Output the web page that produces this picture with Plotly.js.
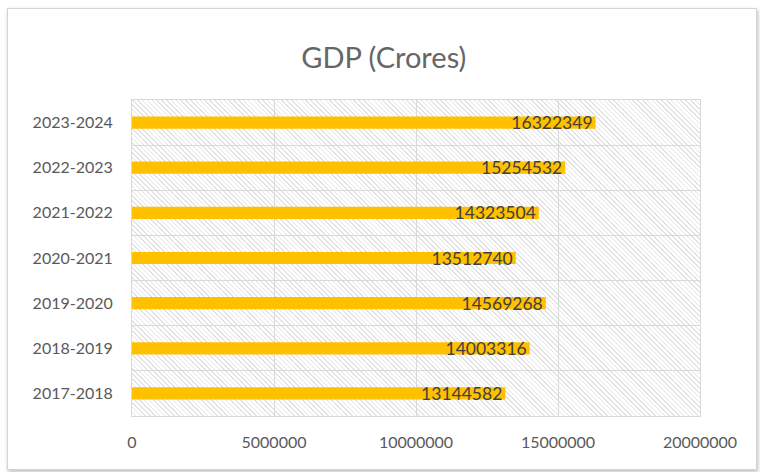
<!DOCTYPE html>
<html>
<head>
<meta charset="utf-8">
<script src="https://cdn.plot.ly/plotly-3.0.1.min.js"></script>
<style>
  html, body { margin: 0; padding: 0; background: #ffffff; }
  #wrap { position: relative; width: 760px; height: 472px; overflow: hidden; background: #fff; }
  #frame { position: absolute; left: 7px; top: 8px; width: 748px; height: 460px;
           border: 1px solid #d4d4d4; box-shadow: 1px 2px 4px rgba(0,0,0,0.25); background: #fff; }
  #hatch { position: absolute; left: 132px; top: 100px; width: 568px; height: 316px;
           background: repeating-linear-gradient(45deg, #ffffff 0px, #ffffff 2.3px, #e3e3e3 2.3px, #e3e3e3 3.4px); }
  #chart { position: absolute; left: 0; top: 0; width: 760px; height: 472px; }
</style>
</head>
<body>
<div id="wrap">
  <div id="frame"></div>
  <div id="hatch"></div>
  <div id="chart"></div>
</div>
<script>
const categories = ["2017-2018", "2018-2019", "2019-2020", "2020-2021", "2021-2022", "2022-2023", "2023-2024"];
const gdpValues = [13144582, 14003316, 14569268, 13512740, 14323504, 15254532, 16322349];
const xTickValues = [0, 5000000, 10000000, 15000000, 20000000];
const xTickLabels = ["0", "5000000", "10000000", "15000000", "20000000"];

const trace = {
  type: "bar",
  orientation: "h",
  y: categories,
  x: gdpValues,
  marker: { color: "#FFC000" },
  text: gdpValues.map(String),
  textposition: "inside",
  insidetextanchor: "end",
  constraintext: "none",
  cliponaxis: false,
  textfont: { family: "Lato, 'Open Sans', sans-serif", size: 17.5, color: "#404040" },
  hoverinfo: "x+y"
};

const layout = {
  width: 760,
  height: 472,
  margin: { l: 132, r: 60, t: 100, b: 56 },
  paper_bgcolor: "rgba(0,0,0,0)",
  plot_bgcolor: "rgba(0,0,0,0)",
  bargap: 0.73,
  showlegend: false,
  font: { family: "Lato, 'Open Sans', sans-serif", color: "#595959" },
  title: {
    text: "GDP (Crores)",
    font: { family: "Lato, 'Open Sans', sans-serif", size: 29, color: "#666666" },
    x: 0.505, xanchor: "center",
    y: 0.877, yanchor: "middle"
  },
  xaxis: {
    range: [0, 20000000],
    tickvals: xTickValues,
    ticktext: xTickLabels,
    showgrid: true,
    gridcolor: "#d9d9d9",
    gridwidth: 1,
    zeroline: false,
    showline: true,
    linecolor: "#d9d9d9",
    mirror: true,
    ticks: "",
    ticklabelstandoff: 12,
    tickfont: { size: 16, color: "#595959" },
    fixedrange: true
  },
  yaxis: {
    type: "category",
    categoryorder: "array",
    categoryarray: categories,
    tickson: "boundaries",
    showgrid: true,
    gridcolor: "#d9d9d9",
    gridwidth: 1,
    zeroline: false,
    showline: true,
    linecolor: "#d9d9d9",
    mirror: true,
    ticks: "",
    ticklabelstandoff: 15,
    tickfont: { size: 16, color: "#595959" },
    fixedrange: true
  }
};

Plotly.newPlot("chart", [trace], layout, { displayModeBar: false, staticPlot: true });
</script>
</body>
</html>
